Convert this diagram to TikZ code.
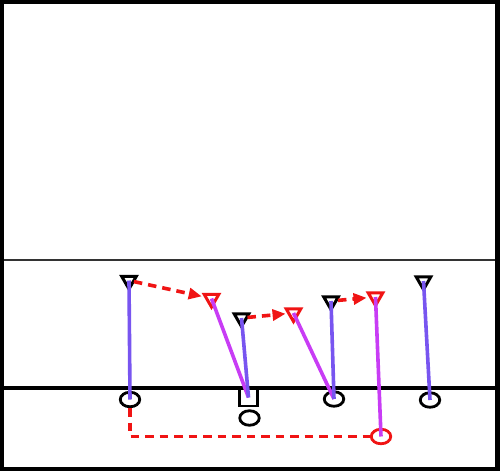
\documentclass[tikz,border=0pt]{standalone}
\usetikzlibrary{shapes.geometric,arrows.meta}
\definecolor{routeblue}{RGB}{120,85,240}
\definecolor{routemag}{RGB}{200,60,245}
\definecolor{motred}{RGB}{240,20,20}
\begin{document}
\begin{tikzpicture}[x=1pt,y=-1pt,
  tri/.style={regular polygon, regular polygon sides=3, shape border rotate=180, draw, line width=3pt, minimum size=17pt, inner sep=0pt, outer sep=0pt},
  blk/.style={tri, draw=black},
  redt/.style={tri, draw=motred},
  oval/.style={ellipse, draw, line width=2.8pt, minimum width=19.5pt, minimum height=14.5pt, inner sep=0pt},
  sq/.style={rectangle, draw, line width=2.8pt, minimum width=18pt, minimum height=17pt, inner sep=0pt},
  bl/.style={draw=routeblue, line width=3.6pt},
  mg/.style={draw=routemag, line width=3.6pt},
  mot/.style={draw=motred, line width=3.6pt, dash pattern=on 8.5pt off 6pt},
  motarrow/.style={mot, -{Triangle[length=13pt,width=11pt]}}
]
\useasboundingbox (0,0) rectangle (500,471);
\fill[white] (0,0) rectangle (500,471);
% field lines
\coordinate (tl) at (4,260);
\coordinate (tr) at (495,260);
\coordinate (sl) at (4,388);
\coordinate (sr) at (495,388);
\draw[line width=1.3pt, black!80] (tl) -- (tr);
\draw[line width=3.2pt] (sl) -- (sr);
% players
\node[blk]  (T1) at (129,280.5) {};
\node[redt] (T2) at (211.5,298.5) {};
\node[blk]  (T3) at (241.5,318) {};
\node[redt] (T4) at (293.5,313) {};
\node[blk]  (T5) at (331,301) {};
\node[redt] (T6) at (375.5,297) {};
\node[blk]  (T7) at (423.5,281) {};
\node[oval] (C1) at (130,399.5) {};
\node[sq]   (S)  at (248.5,397.5) {};
\node[oval] (C2) at (249.5,418) {};
\node[oval] (C3) at (334,399) {};
\node[oval] (C4) at (430,400) {};
\node[oval, draw=motred] (R) at (381,436.5) {};
% routes
\draw[bl] (T1.center) -- (C1.center);
\draw[mg] (T2.center) -- (S.center);
\draw[bl] (T3.center) -- (S.center);
\draw[mg] (T4.center) -- (C3.center);
\draw[bl] (T5.center) -- (C3.center);
\draw[mg] (T6.center) -- (R.center);
\draw[bl] (T7.center) -- (C4.center);
% motions
\draw[motarrow, shorten <=5pt, shorten >=10pt] (T1.center) -- (T2.center);
\draw[motarrow, shorten <=6pt, shorten >=8pt] (T3.center) -- (T4.center);
\draw[motarrow, shorten <=7pt, shorten >=9pt] (T5.center) -- (T6.center);
\draw[mot] (C1.south) |- (R.west);
% frame
\draw[line width=4.5pt] (2.2,2.2) rectangle (497.5,468.8);
\end{tikzpicture}
\end{document}
